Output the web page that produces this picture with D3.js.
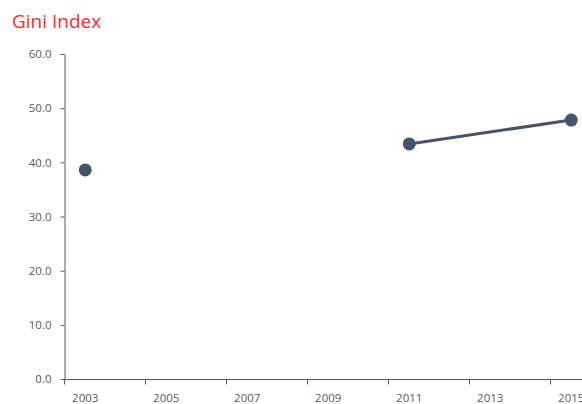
<!DOCTYPE html>
<html>
<head>
<meta charset="utf-8">
<script src="https://cdn.jsdelivr.net/npm/d3@7"></script>
<style>
  body { margin: 0; background: #fff; }
  svg { display: block; }
</style>
</head>
<body>
<div id="chart"></div>
<script>
// category axis runs 2003..2015, labels every other year
var categories = d3.range(2003, 2016);
var tickYears = [2003, 2005, 2007, 2009, 2011, 2013, 2015];
var yTicks = [0, 10, 20, 30, 40, 50, 60];

// observed Gini values; points with the same segment id are joined by a line
var years = [2003, 2011, 2015];
var gini = [38.6, 43.4, 47.8];
var segment = [0, 1, 1];

var width = 582, height = 404;
var margin = {top: 54, right: -10, bottom: 25, left: 65};

var svg = d3.select("#chart").append("svg")
  .attr("width", width)
  .attr("height", height);

svg.append("text")
  .attr("x", 12)
  .attr("y", 28)
  .attr("fill", "#ff2a2a")
  .attr("font-family", "Open Sans, Lato, sans-serif")
  .attr("font-size", 19)
  .text("Gini Index");

var x = d3.scaleBand()
  .domain(categories)
  .range([margin.left, margin.left + 13 * 40.5]);

var y = d3.scaleLinear()
  .domain([0, 60])
  .range([height - margin.bottom, margin.top]);

var axisColor = "#595959";

// y axis
var yAxis = svg.append("g")
  .attr("transform", "translate(" + (margin.left - 0.5) + ",0)")
  .call(d3.axisLeft(y).tickValues(yTicks).tickSize(4).tickSizeOuter(0)
    .tickFormat(d3.format(".1f")));

// x axis with ticks at category boundaries every 2 years
var xg = svg.append("g")
  .attr("transform", "translate(0," + (y(0) + 0.5) + ")");
xg.append("line")
  .attr("x1", margin.left - 4)
  .attr("x2", width)
  .attr("stroke", axisColor);
xg.selectAll("line.tick")
  .data(tickYears)
  .enter().append("line")
  .attr("class", "tick")
  .attr("x1", function(d) { return Math.round(x(d)) - 0.5; })
  .attr("x2", function(d) { return Math.round(x(d)) - 0.5; })
  .attr("y1", 0)
  .attr("y2", 5)
  .attr("stroke", axisColor);
xg.selectAll("text")
  .data(tickYears)
  .enter().append("text")
  .attr("x", function(d) { return x(d) + x.bandwidth() / 2; })
  .attr("y", 22)
  .attr("text-anchor", "middle")
  .attr("fill", axisColor)
  .attr("font-family", "Open Sans, Lato, sans-serif")
  .attr("font-size", 11.5)
  .text(function(d) { return d; });

yAxis.select(".domain").attr("stroke", axisColor);
yAxis.selectAll(".tick line").attr("stroke", axisColor);
yAxis.selectAll(".tick text")
  .attr("fill", axisColor)
  .attr("font-family", "Open Sans, Lato, sans-serif")
  .attr("font-size", 11.5)
  .attr("dx", "-6");

var pts = years.map(function(yr, i) {
  return {year: yr, value: gini[i], seg: segment[i]};
});

var line = d3.line()
  .x(function(d) { return x(d.year) + x.bandwidth() / 2; })
  .y(function(d) { return y(d.value); });

var groups = d3.groups(pts, function(d) { return d.seg; });
svg.selectAll("path.series")
  .data(groups.filter(function(g) { return g[1].length > 1; }))
  .enter().append("path")
  .attr("class", "series")
  .attr("d", function(g) { return line(g[1]); })
  .attr("fill", "none")
  .attr("stroke", "#44546a")
  .attr("stroke-width", 3);

svg.selectAll("circle.pt")
  .data(pts)
  .enter().append("circle")
  .attr("class", "pt")
  .attr("cx", function(d) { return x(d.year) + x.bandwidth() / 2; })
  .attr("cy", function(d) { return y(d.value); })
  .attr("r", 6.5)
  .attr("fill", "#44546a");
</script>
</body>
</html>
